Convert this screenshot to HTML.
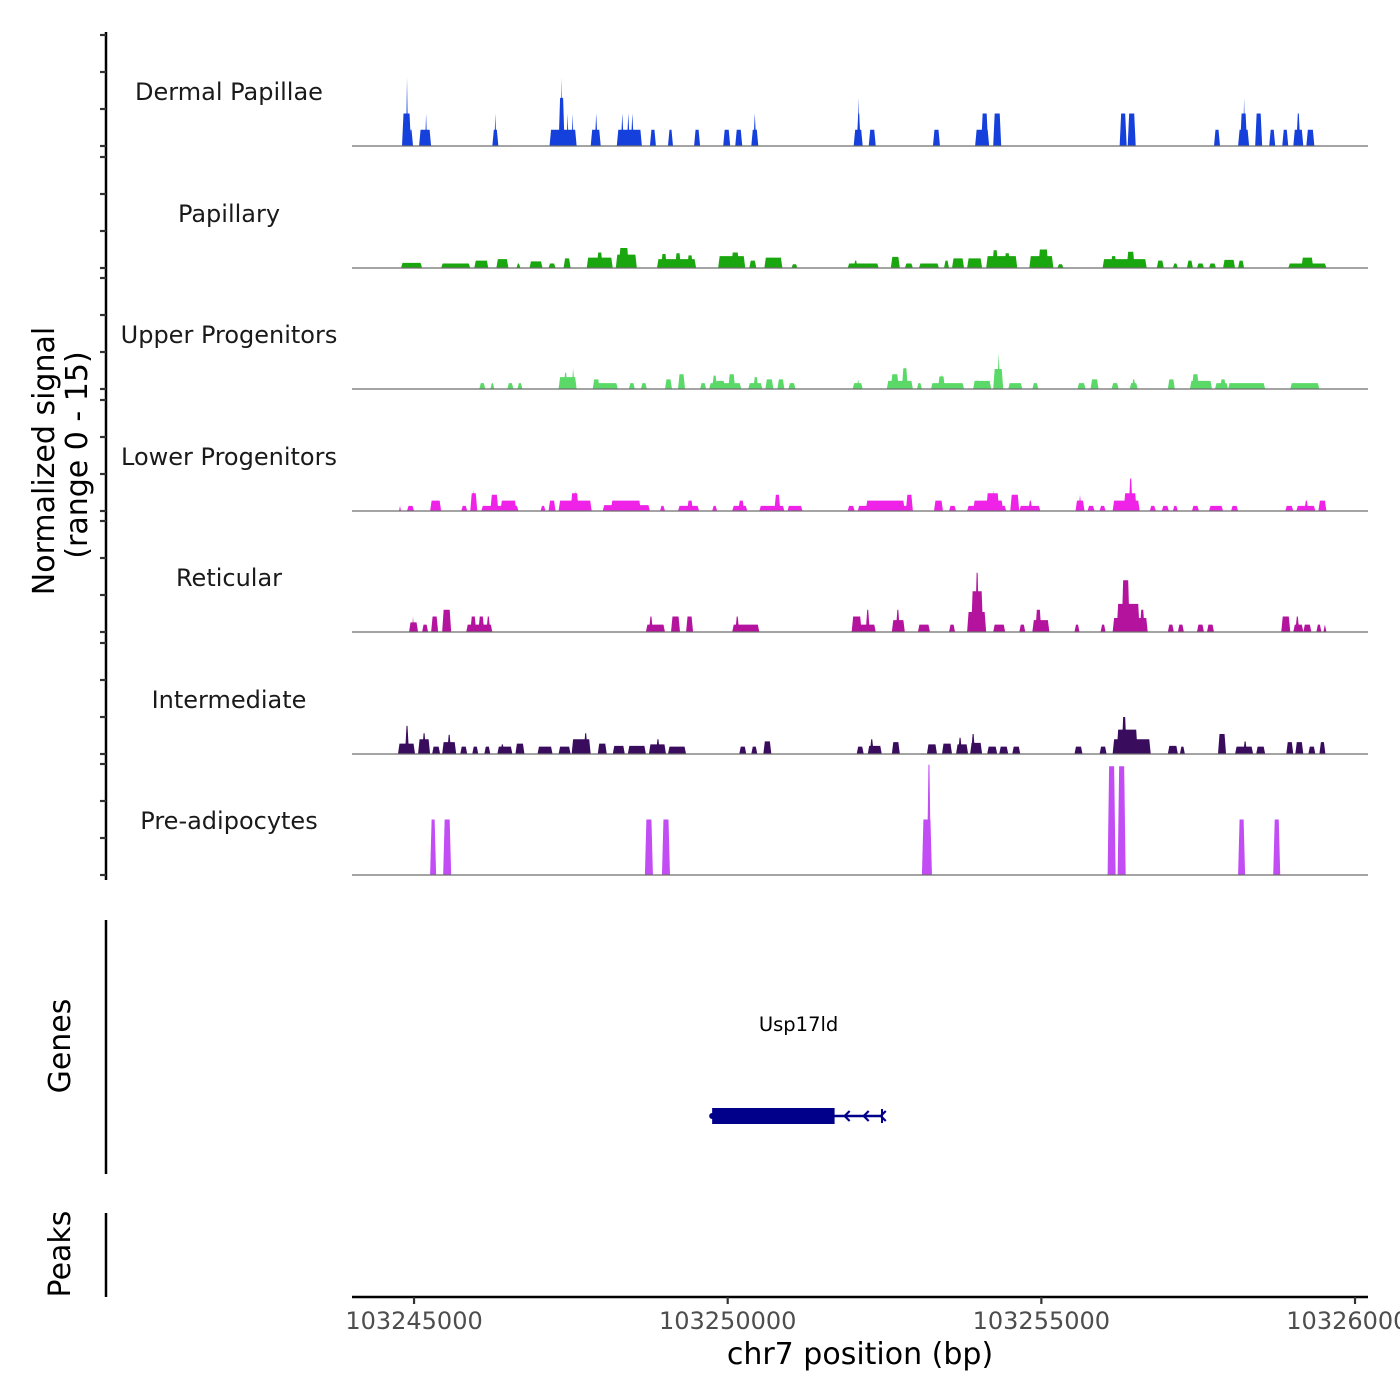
<!DOCTYPE html>
<html><head><meta charset="utf-8">
<style>
html,body{margin:0;padding:0;background:#fff;}
svg{display:block;font-family:"DejaVu Sans","Liberation Sans",sans-serif;}
</style></head>
<body>
<svg id="chart" width="1400" height="1400" viewBox="0 0 1400 1400" xmlns="http://www.w3.org/2000/svg">
<rect x="0" y="0" width="1400" height="1400" fill="#fff"/>
<g id="tracks"></g>
<g id="yaxis"></g>
<text transform="translate(54,461) rotate(-90)" text-anchor="middle" font-size="30" fill="#000">Normalized signal</text>
<text transform="translate(87,455) rotate(-90)" text-anchor="middle" font-size="30" fill="#000">(range 0 - 15)</text>
<line x1="106" y1="920" x2="106" y2="1174" stroke="#000" stroke-width="2.5"/>
<text transform="translate(70,1046) rotate(-90)" text-anchor="middle" font-size="30" fill="#000">Genes</text>
<line x1="106" y1="1213" x2="106" y2="1297" stroke="#000" stroke-width="2.5"/>
<text transform="translate(70,1254) rotate(-90)" text-anchor="middle" font-size="30" fill="#000">Peaks</text>
<g id="genes"></g>
<g id="xaxis"></g>
<text x="860" y="1364" text-anchor="middle" font-size="30" fill="#000">chr7 position (bp)</text>
</svg>
<script>
// ---- data (positions are bp offsets from anchor 103245000; heights in signal units) ----
const anchorBp = 103245000;
const trackNames = ["Dermal Papillae","Papillary","Upper Progenitors","Lower Progenitors","Reticular","Intermediate","Pre-adipocytes"];
const trackColors = ["#1540dc","#1aa60e","#5ad968","#ef22e8","#b4139d","#3a0c5e","#c24df5"];
const xTicks = [103245000,103250000,103255000,103260000];
const yTicks = [0,5,10,15];
const dermal = [[-192,-48,4.4],[-128,-96,9.2],[-80,-16,2.2],[80,272,2.2],[176,208,4.4],[1248,1344,2.2],[1280,1312,4.4],[2160,2592,2.2],[2304,2400,6.5],[2336,2368,9.2],[2432,2464,4.4],[2512,2544,4.4],[2816,2976,2.2],[2880,2928,4.4],[3232,3632,2.2],[3296,3344,4.4],[3392,3440,4.4],[3456,3504,4.4],[3760,3856,2.2],[4048,4128,2.2],[4464,4560,2.2],[4928,5040,2.2],[5120,5232,2.2],[5376,5488,2.2],[5408,5456,4.4],[7008,7152,2.2],[7056,7120,4.4],[7072,7104,6.5],[7248,7360,2.2],[8272,8384,2.2],[8944,9168,2.2],[9040,9152,4.4],[9232,9360,4.4],[11248,11360,4.4],[11376,11504,4.4],[12752,12848,2.2],[13136,13312,2.2],[13168,13280,4.4],[13216,13248,6.5],[13408,13520,4.4],[13632,13728,2.2],[13840,13936,2.2],[14016,14176,2.2],[14064,14128,4.4],[14224,14352,2.2]];
const papillary = [[-208,128,0.7],[432,896,0.6],[960,1184,1.0],[1312,1504,1.2],[1632,1696,0.6],[1840,2048,0.9],[2144,2256,0.6],[2384,2496,1.3],[2752,3168,1.4],[2912,3008,2.1],[3216,3552,1.8],[3264,3424,2.7],[3872,4496,1.2],[3936,4032,1.9],[4160,4256,2.0],[4352,4448,1.7],[4848,5280,1.6],[5056,5184,2.1],[5344,5456,1.0],[5584,5872,1.4],[6016,6112,0.5],[6912,7408,0.6],[7008,7072,1.0],[7600,7744,1.5],[7824,7952,0.6],[8048,8368,0.6],[8448,8528,1.0],[8576,8768,1.3],[8816,9056,1.3],[9120,9616,1.6],[9216,9312,2.4],[9408,9504,2.0],[9808,10192,1.6],[9952,10112,2.5],[10256,10352,0.5],[10976,11680,1.2],[11104,11200,1.6],[11360,11488,2.2],[11840,11952,1.0],[12096,12176,0.6],[12320,12416,1.0],[12480,12592,0.6],[12672,12784,0.6],[12896,13088,1.1],[13136,13232,1.0],[13936,14544,0.6],[14144,14336,1.4]];
const upper = [[1040,1136,0.8],[1216,1280,0.8],[1488,1584,0.8],[1648,1728,0.8],[2304,2592,1.6],[2384,2448,2.2],[2512,2560,2.8],[2848,3248,0.8],[2848,2960,1.3],[3424,3520,0.8],[3616,3712,0.8],[4000,4112,1.3],[4208,4320,2.0],[4560,4656,0.8],[4704,5216,0.8],[4752,4832,1.8],[4800,4960,1.1],[5008,5120,2.0],[5328,5552,0.8],[5408,5488,1.6],[5600,5728,1.3],[5792,5904,1.3],[5968,6080,0.8],[6992,7152,0.8],[7056,7104,1.3],[7536,7952,1.1],[7600,7728,2.0],[7776,7872,2.8],[7824,7856,3.2],[8016,8096,0.8],[8240,8768,0.8],[8352,8464,1.7],[8400,8432,2.1],[8912,9200,1.1],[8960,9008,1.3],[9232,9392,2.7],[9296,9344,4.8],[9472,9696,0.8],[9856,9952,0.8],[10576,10704,0.8],[10784,10912,1.3],[11120,11232,0.8],[11408,11536,0.8],[11440,11504,1.3],[12016,12128,1.3],[12368,12720,1.1],[12400,12512,2.0],[12768,12976,0.8],[12848,12944,1.3],[12976,13568,0.8],[13968,14432,0.8]];
const lower = [[-240,-208,0.7],[-112,0,0.7],[256,432,1.4],[752,848,0.7],[896,1008,2.4],[928,976,2.8],[1072,1664,0.7],[1216,1344,2.2],[1376,1632,1.4],[2016,2096,0.7],[2144,2256,1.4],[2304,2832,1.4],[2496,2624,2.4],[2544,2592,2.8],[3008,3760,0.8],[3136,3616,1.4],[3920,4000,0.7],[4208,4544,0.7],[4352,4448,1.4],[4752,4832,0.7],[5072,5312,0.7],[5168,5264,1.4],[5504,5904,0.7],[5744,5840,2.2],[5952,6192,0.7],[6912,7024,0.7],[7072,7936,0.7],[7200,7824,1.4],[7840,7952,2.2],[8288,8432,1.4],[8528,8640,0.7],[8816,9440,0.7],[8912,9392,1.4],[9120,9328,2.4],[9216,9264,2.8],[9504,9648,2.2],[9648,9984,0.7],[9792,9856,1.4],[10544,10688,1.4],[10592,10640,2.2],[10736,10848,0.7],[10928,11024,0.7],[11136,11568,1.4],[11312,11520,2.4],[11392,11456,4.4],[11728,11824,0.7],[11920,12032,0.7],[12096,12176,0.7],[12400,12512,0.7],[12672,12896,0.7],[13024,13136,0.7],[13888,14016,0.7],[14064,14368,0.7],[14192,14256,1.4],[14416,14544,1.4]];
const reticular = [[-80,64,1.3],[-32,0,2.1],[128,224,1.0],[272,384,2.1],[448,592,3.0],[832,1248,1.0],[896,992,2.1],[1024,1120,2.1],[1152,1216,2.1],[3696,4000,1.0],[3744,3808,2.1],[4096,4240,2.1],[4336,4448,2.1],[5072,5504,1.0],[5120,5184,2.1],[6976,7360,1.0],[6976,7136,2.1],[7200,7264,3.0],[7616,7824,1.6],[7680,7744,3.0],[8032,8224,1.0],[8528,8624,1.0],[8816,9120,2.7],[8880,9072,5.5],[8944,9008,8.0],[9232,9424,1.0],[9648,9744,1.0],[9856,10128,1.6],[9904,10000,3.0],[10528,10608,1.0],[10944,11024,1.0],[11136,11696,1.9],[11200,11568,3.8],[11280,11408,7.0],[11568,11648,3.0],[12016,12112,1.0],[12176,12272,1.0],[12480,12592,1.0],[12640,12752,1.0],[13824,13968,2.1],[14016,14176,1.0],[14048,14112,2.1],[14176,14304,1.0],[14384,14464,1.0],[14496,14544,1.0]];
const intermediate = [[-256,16,1.4],[-144,-80,3.8],[64,256,2.0],[128,192,2.8],[288,416,1.0],[448,672,1.6],[528,592,2.6],[736,848,1.0],[928,1024,1.0],[1120,1216,1.0],[1328,1568,1.0],[1376,1440,1.3],[1616,1760,1.4],[1968,2208,1.0],[2304,2496,1.0],[2512,2816,2.0],[2704,2768,2.8],[2928,3072,1.4],[3168,3360,1.1],[3408,3696,1.1],[3744,4016,1.3],[3856,3920,2.0],[4048,4336,1.0],[5184,5296,1.0],[5376,5472,1.0],[5568,5696,1.7],[7056,7168,1.0],[7232,7456,1.1],[7264,7328,2.0],[7616,7744,1.6],[8176,8336,1.3],[8416,8576,1.4],[8640,8832,1.3],[8672,8736,2.2],[8864,9056,1.5],[8880,8944,2.7],[9136,9296,1.0],[9328,9472,1.0],[9536,9664,1.0],[10528,10656,1.0],[10928,11040,1.0],[11136,11744,2.0],[11200,11536,3.3],[11280,11360,5.0],[12016,12176,1.1],[12208,12288,1.0],[12816,12944,2.7],[13088,13376,1.0],[13216,13280,1.7],[13424,13568,1.0],[13904,14016,1.6],[14048,14176,1.6],[14256,14368,1.0],[14432,14528,1.6]];
const preadipocytes = [[256,352,7.5],[464,592,7.5],[3680,3808,7.5],[3952,4080,7.5],[8096,8256,7.5],[8176,8240,14.9],[11056,11184,14.7],[11216,11344,14.7],[13136,13248,7.5],[13696,13808,7.5]];
const geneName = "Usp17ld";
const geneExon = [4752, 6704];   // thick coding block (bp offsets)
const geneSpan = [4752, 7460];   // full transcript
const geneIntronArrows = [6864, 7168, 7440];

// ---- scales ----
const X0 = 352, X1 = 1368;
const domainMin = 103244011, domainMax = 103260207;
function xScale(bp){ return X0 + (bp - domainMin) / (domainMax - domainMin) * (X1 - X0); }
const baselines = [146, 268, 389, 511, 632, 754, 875];
const pxPerUnit = 111 / 15;
function yScale(track, v){ return baselines[track] - v * pxPerUnit; }

const NS = "http://www.w3.org/2000/svg";
function mk(tag, attrs, parent){ const e = document.createElementNS(NS, tag); for (const k in attrs) e.setAttribute(k, attrs[k]); parent.appendChild(e); return e; }

const trackData = [dermal, papillary, upper, lower, reticular, intermediate, preadipocytes];
const gT = document.getElementById("tracks");
trackData.forEach((segs, t) => {
  const g = mk("g", {}, gT);
  
  
  const lbl = mk("text", {x: 229, y: baselines[t] - 46, "text-anchor": "middle", "font-size": "24", fill: "#1a1a1a"}, g);
  lbl.textContent = trackNames[t];
  
  
  segs.forEach(s => {
    const xa = xScale(anchorBp + s[0]), xb = xScale(anchorBp + s[1]);
    const yb = baselines[t], yt = yScale(t, s[2]);
    const inset = Math.min(1.5, (xb - xa) / 2);
    const p = mk("polygon", {points: `${xa},${yb} ${xa+inset},${yt} ${xb-inset},${yt} ${xb},${yb}`, fill: trackColors[t]}, g);
    
    
  });
  const bl = mk("line", {x1: X0, x2: X1, y1: baselines[t], y2: baselines[t], stroke: "#6e6e6e", "stroke-width": "1.2"}, g);
  
  
});

// y axis
const gY = document.getElementById("yaxis");
const yl = mk("line", {x1: 106, x2: 106, y1: 32, y2: 880, stroke: "#000", "stroke-width": "2.5"}, gY);


baselines.forEach((b, t) => {
  yTicks.forEach(v => {
    const y = yScale(t, v);
    const tk = mk("line", {x1: 100, x2: 106, y1: y, y2: y, stroke: "#333", "stroke-width": "2.2"}, gY);
    
    
  });
});

// x axis
const gX = document.getElementById("xaxis");
const xl = mk("line", {x1: X0, x2: X1, y1: 1297, y2: 1297, stroke: "#000", "stroke-width": "2.5"}, gX);


xTicks.forEach(v => {
  const x = xScale(v);
  const tk = mk("line", {x1: x, x2: x, y1: 1297, y2: 1304, stroke: "#333", "stroke-width": "2.2"}, gX);
  
  
  const tl = mk("text", {x: x, y: 1329, "text-anchor": "middle", "font-size": "24", fill: "#4d4d4d"}, gX);
  tl.textContent = String(v);
  
  
});

// gene
const gG = document.getElementById("genes");
const gx0 = xScale(anchorBp + geneSpan[0]), gx1 = xScale(anchorBp + geneSpan[1]);
const ex0 = xScale(anchorBp + geneExon[0]), ex1 = xScale(anchorBp + geneExon[1]);
const gl = mk("line", {x1: gx0, x2: gx1, y1: 1116, y2: 1116, stroke: "#00008b", "stroke-width": "2.5"}, gG);


const ex = mk("rect", {x: ex0, y: 1108, width: ex1 - ex0, height: 16, fill: "#00008b"}, gG);


const cap = mk("circle", {cx: ex0, cy: 1116, r: 3, fill: "#00008b"}, gG);


geneIntronArrows.forEach(b => {
  const x = xScale(anchorBp + b);
  const a = mk("polyline", {points: `${x+5},${1111} ${x},${1116} ${x+5},${1121}`, fill: "none", stroke: "#00008b", "stroke-width": "2.2"}, gG);
  
  
});
const endT = mk("line", {x1: gx1, x2: gx1, y1: 1109, y2: 1123, stroke: "#00008b", "stroke-width": "2"}, gG);


const gn = mk("text", {x: xScale(anchorBp + 6130), y: 1031, "text-anchor": "middle", "font-size": "19.5", fill: "#000"}, gG);
gn.textContent = geneName;


</script>
</body></html>
